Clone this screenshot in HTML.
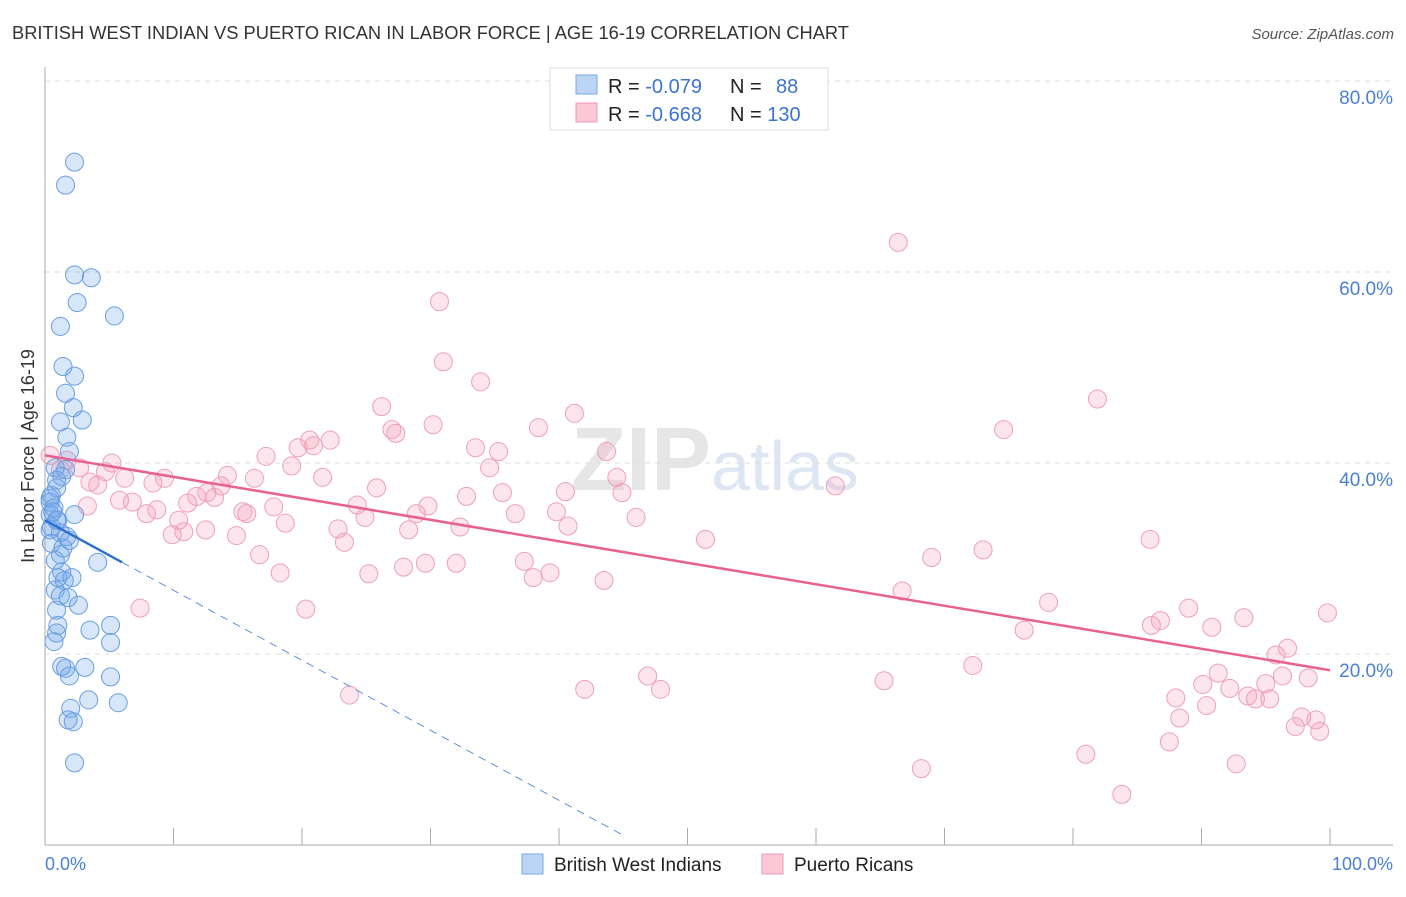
<!DOCTYPE html>
<html><head><meta charset="utf-8"><style>
body{margin:0;background:#fff;font-family:"Liberation Sans",sans-serif;}
svg text{font-family:"Liberation Sans",sans-serif;}
</style></head><body>
<svg id="chart" width="1406" height="892" viewBox="0 0 1406 892" xmlns="http://www.w3.org/2000/svg">
<text x="12" y="39" font-size="18" fill="#333" textLength="837" lengthAdjust="spacingAndGlyphs">BRITISH WEST INDIAN VS PUERTO RICAN IN LABOR FORCE | AGE 16-19 CORRELATION CHART</text>
<text x="1394" y="39" font-size="15" fill="#555" text-anchor="end" font-style="italic">Source: ZipAtlas.com</text>
<text x="715" y="490" font-size="90" fill="#e6e6e6" text-anchor="middle" font-family="Liberation Serif"><tspan font-weight="bold">ZIP</tspan><tspan fill="#dde7f4" font-family="Liberation Sans" font-size="70">atlas</tspan></text>
<g id="grid"></g>
<g id="axes"></g>
<g id="pts"></g>
<g id="lines"></g>
<text transform="translate(34,456) rotate(-90)" font-size="18" fill="#333" text-anchor="middle">In Labor Force | Age 16-19</text>
<text x="45" y="870" font-size="18" fill="#4a7fd4">0.0%</text>
<text x="1393" y="870" font-size="18" fill="#4a7fd4" text-anchor="end">100.0%</text>
<g>
<rect x="550" y="68" width="278" height="62" fill="#fff" stroke="#ddd"/>
<rect x="576" y="75" width="21" height="19" fill="#bcd5f5" stroke="#7aa8e6"/>
<rect x="576" y="103" width="21" height="19" fill="#fbc8d8" stroke="#ef9ab6"/>
<text x="608" y="93" font-size="20" fill="#222">R = <tspan fill="#3d74d0">-0.079</tspan></text>
<text x="730" y="93" font-size="20" fill="#222">N = <tspan fill="#3d74d0" x="776">88</tspan></text>
<text x="608" y="121" font-size="20" fill="#222">R = <tspan fill="#3d74d0">-0.668</tspan></text>
<text x="730" y="121" font-size="20" fill="#222">N = <tspan fill="#3d74d0">130</tspan></text>
</g>
<g>
<rect x="522" y="854" width="21" height="20" fill="#bcd5f5" stroke="#7aa8e6"/>
<text x="554" y="871" font-size="19" fill="#222">British West Indians</text>
<rect x="762" y="854" width="21" height="20" fill="#fbc8d8" stroke="#ef9ab6"/>
<text x="794" y="871" font-size="19" fill="#222">Puerto Ricans</text>
</g>
</svg>
<script>
const yTicks=[20,40,60,80];
const xTicks=[0,10,20,30,40,50,60,70,80,90,100];
const bwiX=[2.3,1.6,2.3,3.6,2.5,5.4,1.2,1.4,2.3,1.6,2.2,1.2,2.9,1.7,1.9,0.8,1.3,0.9,0.5,0.4,0.7,0.4,1.0,2.3,0.5,1.2,1.7,0.5,1.4,1.9,1.2,4.1,0.8,1.3,1.0,2.1,1.5,0.8,1.2,1.8,2.6,0.9,1.0,3.5,5.1,0.9,0.7,5.1,1.3,1.6,3.1,1.9,5.1,3.4,5.7,2.0,1.8,2.2,2.3,0.4,0.6,0.9,0.4,1.6,0.9];
const bwiY=[71.5,69.1,59.7,59.4,56.8,55.4,54.3,50.1,49.1,47.3,45.8,44.3,44.5,42.7,41.2,39.5,38.6,37.4,36.6,35.9,35.3,34.6,34.0,34.6,33.3,32.7,32.3,31.6,31.1,31.9,30.4,29.6,29.8,28.6,28.0,28.0,27.7,26.7,26.1,25.9,25.1,24.6,23.0,22.5,23.0,22.2,21.3,21.2,18.7,18.5,18.6,17.7,17.6,15.2,14.9,14.3,13.1,12.9,8.6,36.3,34.9,34.0,33.0,39.3,38.2];
const prX=[66.4,30.7,31.0,33.9,81.9,26.2,41.2,30.2,27.0,27.3,38.4,74.6,20.6,20.9,22.2,19.7,33.5,35.3,43.7,17.2,0.4,1.7,5.2,1.2,2.7,4.7,19.2,34.6,9.3,6.2,14.2,16.3,21.6,44.5,3.5,4.1,8.4,13.7,25.8,61.5,35.6,12.6,11.8,13.2,32.8,40.5,44.9,5.8,6.8,11.1,24.3,29.8,3.3,17.8,15.4,15.7,8.7,7.9,28.9,36.6,39.8,24.9,46.0,10.4,18.7,40.7,32.3,12.5,22.8,28.3,10.8,9.9,14.9,23.3,51.4,86.0,73.0,16.7,69.0,37.3,32.0,29.6,27.9,18.3,25.2,39.3,38.0,43.5,66.7,78.1,7.4,20.3,89.0,99.8,93.3,86.8,86.1,90.8,76.2,96.7,95.8,72.2,91.3,96.3,98.3,46.9,65.3,90.1,95.0,92.2,42.0,47.9,23.7,88.0,93.6,94.2,95.3,90.4,88.3,97.8,98.9,97.3,99.2,87.5,81.0,92.7,68.2,83.8];
const prY=[63.1,56.9,50.6,48.5,46.7,45.9,45.2,44.0,43.5,43.1,43.7,43.5,42.4,41.8,42.4,41.6,41.6,41.2,41.2,40.7,40.8,40.3,40.0,39.3,39.5,39.1,39.7,39.5,38.4,38.4,38.7,38.4,38.5,38.5,38.0,37.7,37.9,37.6,37.4,37.6,36.9,36.9,36.5,36.4,36.5,37.0,36.9,36.1,35.9,35.8,35.6,35.5,35.5,35.4,34.9,34.7,35.1,34.7,34.7,34.7,34.9,34.3,34.3,34.0,33.7,33.4,33.3,33.0,33.1,33.0,32.8,32.5,32.4,31.7,32.0,32.0,30.9,30.4,30.1,29.7,29.5,29.5,29.1,28.5,28.4,28.5,28.0,27.7,26.6,25.4,24.8,24.7,24.8,24.3,23.8,23.5,23.0,22.8,22.5,20.6,19.9,18.8,18.0,17.7,17.5,17.7,17.2,16.8,16.9,16.4,16.3,16.3,15.7,15.4,15.6,15.3,15.3,14.6,13.3,13.4,13.1,12.4,11.9,10.8,9.5,8.5,8.0,5.3];
const prTrend=[40.8,18.3];
const bwiTrend=[34.0,-0.733];
const NS='http://www.w3.org/2000/svg';
const X=v=>45+v*12.85, Y=v=>845-v*9.55;
function mk(t,a,p){const e=document.createElementNS(NS,t);for(const k in a)e.setAttribute(k,a[k]);p.appendChild(e);return e;}
const grid=document.getElementById('grid'),axes=document.getElementById('axes'),pts=document.getElementById('pts'),lines=document.getElementById('lines');
yTicks.forEach(t=>{
 const l=mk('line',{x1:45,x2:1393,y1:Y(t),y2:Y(t),stroke:'#ddd','stroke-dasharray':'5,5'},grid);
 
 
 const tx=mk('text',{x:1393,y:Y(t)+23,'font-size':19,fill:'#4a7fd4','text-anchor':'end'},grid);
 tx.textContent=t.toFixed(1)+'%';
 
 
});
const ya=mk('line',{x1:45,x2:45,y1:67,y2:845,stroke:'#aaa'},axes);


const xa=mk('line',{x1:45,x2:1393,y1:845,y2:845,stroke:'#aaa'},axes);


xTicks.forEach(t=>{
 const l=mk('line',{x1:X(t),x2:X(t),y1:828,y2:845,stroke:'#aaa'},axes);
 
 
});
prX.forEach((v,i)=>{
 const c=mk('circle',{cx:X(v),cy:Y(prY[i]),r:9,fill:'rgba(244,160,188,0.28)',stroke:'#eea0b8','stroke-width':1},pts);
 
 
});
bwiX.forEach((v,i)=>{
 const c=mk('circle',{cx:X(v),cy:Y(bwiY[i]),r:9,fill:'rgba(110,165,232,0.28)',stroke:'#6a9ee0','stroke-width':1},pts);
 
 
});
const pl=mk('line',{x1:X(0),y1:Y(prTrend[0]),x2:X(100),y2:Y(prTrend[1]),stroke:'#e8618f','stroke-width':2.5},lines);


const bf=x=>bwiTrend[0]+bwiTrend[1]*x;
const bl=mk('line',{x1:X(0),y1:Y(bf(0)),x2:X(6),y2:Y(bf(6)),stroke:'#2f6fd0','stroke-width':2.5},lines);


const bd=mk('line',{x1:X(6),y1:Y(bf(6)),x2:X(45.2),y2:Y(bf(45.2)),stroke:'#5b8fdc','stroke-width':1,'stroke-dasharray':'8,6'},lines);


</script>
</body></html>
